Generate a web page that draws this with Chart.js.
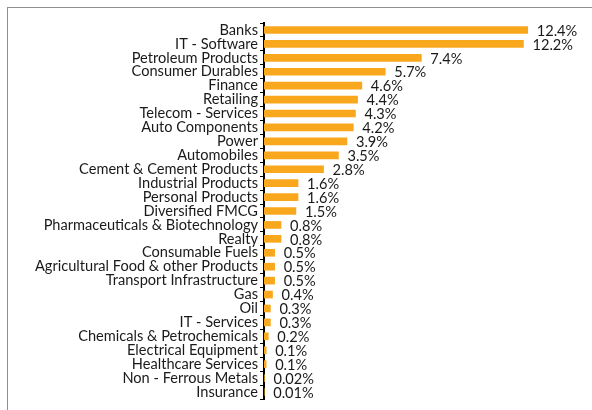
<!DOCTYPE html>
<html>
<head>
<meta charset="utf-8">
<script src="https://cdn.jsdelivr.net/npm/chart.js@4"></script>
<style>
  html, body { margin: 0; padding: 0; background: #fff; overflow: hidden; }
  #frame {
    position: absolute; left: 7px; top: 7px; width: 620px; height: 440px;
    border: 1px solid #8f8f8f; box-sizing: border-box;
  }
  #wrap { position: absolute; left: 0; top: 0; width: 592px; height: 410px; }
</style>
</head>
<body>
<div id="frame"></div>
<div id="wrap"><canvas id="sectors"></canvas></div>
<script>
// sector allocation, % of net assets
const sectors = [
  'Banks',
  'IT - Software',
  'Petroleum Products',
  'Consumer Durables',
  'Finance',
  'Retailing',
  'Telecom - Services',
  'Auto Components',
  'Power',
  'Automobiles',
  'Cement & Cement Products',
  'Industrial Products',
  'Personal Products',
  'Diversified FMCG',
  'Pharmaceuticals & Biotechnology',
  'Realty',
  'Consumable Fuels',
  'Agricultural Food & other Products',
  'Transport Infrastructure',
  'Gas',
  'Oil',
  'IT - Services',
  'Chemicals & Petrochemicals',
  'Electrical Equipment',
  'Healthcare Services',
  'Non - Ferrous Metals',
  'Insurance'
];
const weights = [12.4, 12.2, 7.4, 5.7, 4.6, 4.4, 4.3, 4.2, 3.9, 3.5, 2.8, 1.6, 1.6, 1.5,
  0.8, 0.8, 0.5, 0.5, 0.5, 0.4, 0.3, 0.3, 0.2, 0.1, 0.1, 0.02, 0.01];

const FONT = { family: 'Lato, "Open Sans", sans-serif', size: 14.6 };
const INK = '#1a1a1a';

function pct(v) {
  return (v < 0.1 ? v.toFixed(2) : v.toFixed(1)) + '%';
}

// writes the percentage just past the end of each bar
const valueLabels = {
  id: 'valueLabels',
  afterDatasetsDraw(chart) {
    const ctx = chart.ctx;
    const meta = chart.getDatasetMeta(0);
    ctx.save();
    ctx.font = FONT.size + 'px ' + FONT.family;
    ctx.fillStyle = INK;
    ctx.textAlign = 'left';
    ctx.textBaseline = 'middle';
    meta.data.forEach((bar, i) => {
      ctx.fillText(pct(weights[i]), bar.x + 9, bar.y + 1);
    });
    ctx.restore();
  }
};

const sectorData = {
  labels: sectors,
  datasets: [{
    data: weights,
    backgroundColor: '#F9A81E',
    barThickness: 7
  }]
};

new Chart(document.getElementById('sectors'), {
  type: 'bar',
  data: sectorData,
  plugins: [valueLabels],
  options: {
    indexAxis: 'y',
    responsive: true,
    maintainAspectRatio: false,
    animation: false,
    events: [],
    layout: { padding: { left: 6, top: 23, bottom: 11, right: 9 } },
    plugins: {
      legend: { display: false },
      tooltip: { enabled: false }
    },
    scales: {
      x: {
        display: false,
        min: 0,
        max: 15
      },
      y: {
        afterFit(scale) { scale.width = 258; },
        border: { display: true, color: '#000', width: 2 },
        grid: {
          drawOnChartArea: false,
          drawTicks: true,
          tickLength: 4,
          color: '#000',
          lineWidth: 1
        },
        ticks: {
          color: INK,
          font: FONT,
          padding: 2,
          autoSkip: false
        }
      }
    }
  }
});
</script>
</body>
</html>
